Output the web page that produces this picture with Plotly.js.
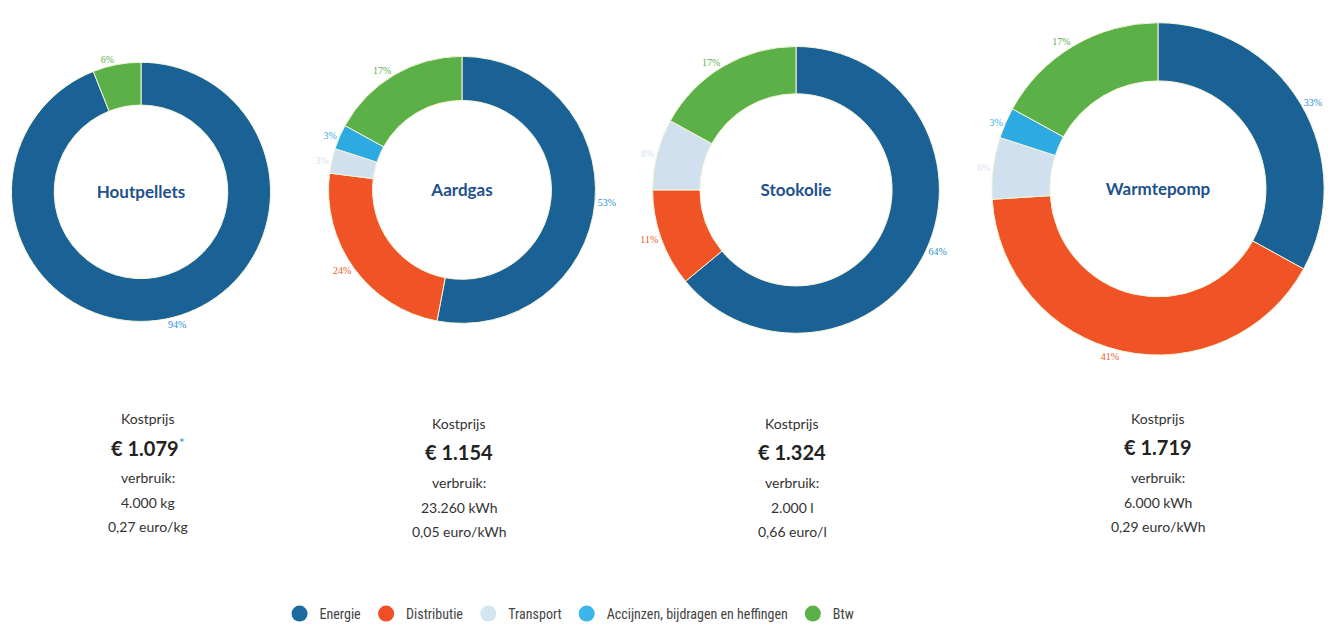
<!DOCTYPE html>
<html>
<head>
<meta charset="utf-8">
<script src="https://cdn.plot.ly/plotly-3.0.1.min.js"></script>
<style>html,body{margin:0;padding:0;background:#fff;}#chart{width:1344px;height:630px;}</style>
</head>
<body>
<div id="chart"></div>
<script>
// ---- data ----
var fuels = ['Houtpellets', 'Aardgas', 'Stookolie', 'Warmtepomp'];
var categories = ['Energie', 'Distributie', 'Transport', 'Accijnzen, bijdragen en heffingen', 'Btw'];
var energie     = [94, 53, 64, 33];
var distributie = [0, 24, 11, 41];
var transport   = [0, 3, 8, 6];
var accijnzen   = [0, 3, 0, 3];
var btw         = [6, 17, 17, 17];
var kostprijs   = ['€ 1.079', '€ 1.154', '€ 1.324', '€ 1.719'];
var asterisk    = [true, false, false, false];
var verbruik    = ['4.000 kg', '23.260 kWh', '2.000 l', '6.000 kWh'];
var eenheidsprijs = ['0,27 euro/kg', '0,05 euro/kWh', '0,66 euro/l', '0,29 euro/kWh'];

// ---- styling ----
var W = 1344, H = 630;
var sliceColors = ['#1a6296', '#f05326', '#d0e0ef', '#2eaae2', '#5cb048'];
var labelColors = ['#2e8fd0', '#f05a28', '#d5e2ee', '#35b0e6', '#5cb048'];
var legendColors = ['#1d6aa0', '#f04e24', '#d3e5f1', '#3cb5ea', '#5cb048'];
var geom = [ // cx, cy, r, hole
  [141, 194, 131, 0.67],
  [462, 192, 135, 0.67],
  [796, 192, 145, 0.67],
  [1158, 191, 168, 0.65]
];
var textCols = [148, 459, 792, 1158];
var textTop = [423, 428, 428, 423];

var traces = [];
fuels.forEach(function (f, i) {
  var g = geom[i];
  var vals = [energie[i], distributie[i], transport[i], accijnzen[i], btw[i]];
  var keep = [];
  vals.forEach(function (v, k) { if (v > 0) keep.push(k); });
  traces.push({
    type: 'pie',
    labels: keep.map(function (k) { return categories[k]; }),
    values: keep.map(function (k) { return vals[k]; }),
    text: keep.map(function (k) { return vals[k] + '%'; }),
    textinfo: 'text',
    sort: false,
    direction: 'clockwise',
    rotation: 0,
    hole: g[3],
    showlegend: false,
    domain: {
      x: [(g[0] - g[2]) / W, (g[0] + g[2]) / W],
      y: [1 - (g[1] + g[2]) / H, 1 - (g[1] - g[2]) / H]
    },
    marker: {
      colors: keep.map(function (k) { return sliceColors[k]; }),
      line: {color: '#f4f6d8', width: 1}
    },
    textposition: 'outside',
    textfont: {family: 'Liberation Serif, DejaVu Serif, serif', size: 10,
               color: keep.map(function (k) { return labelColors[k]; })},
    hoverinfo: 'label+percent',
    title: {
      text: '<b>' + f + '</b>',
      position: 'middle center',
      font: {family: 'Lato, Open Sans, sans-serif', size: 17, color: '#22508c'}
    }
  });
});

// legend via invisible scatter entries with circle markers
categories.forEach(function (c, k) {
  traces.push({
    type: 'scatter', mode: 'markers', x: [null], y: [null], name: c,
    marker: {symbol: 'circle', size: 17, color: legendColors[k]},
    showlegend: true, hoverinfo: 'skip'
  });
});

var annotations = [];
fuels.forEach(function (f, i) {
  var cx = textCols[i] / W;
  var t = textTop[i];
  var lines = [
    {text: 'Kostprijs', dy: 0, size: 14, color: '#333'},
    {text: '<b>' + kostprijs[i] + '</b>' + (asterisk[i] ? '<span style="color:#3aa0dc"><sup>*</sup></span>' : ''), dy: 29, size: 20, color: '#222'},
    {text: 'verbruik:', dy: 60, size: 14, color: '#333'},
    {text: verbruik[i], dy: 85, size: 14, color: '#333'},
    {text: eenheidsprijs[i], dy: 109, size: 14, color: '#333'}
  ];
  lines.forEach(function (ln) {
    annotations.push({
      xref: 'paper', yref: 'paper', x: cx, y: 1 - (t + ln.dy) / H,
      xanchor: 'center', yanchor: 'middle', showarrow: false,
      text: ln.text,
      font: {family: 'Lato, Open Sans, sans-serif', size: ln.size, color: ln.color}
    });
  });
});

var layout = {
  width: W, height: H,
  margin: {l: 0, r: 0, t: 0, b: 0},
  paper_bgcolor: '#ffffff',
  plot_bgcolor: '#ffffff',
  xaxis: {visible: false, range: [0, 1]},
  yaxis: {visible: false, range: [0, 1]},
  showlegend: true,
  legend: {
    orientation: 'h',
    x: 0.208, xanchor: 'left',
    y: 1 - 621 / H, yanchor: 'middle',
    font: {family: 'Liberation Sans Narrow, Roboto Condensed, Roboto, sans-serif', size: 14, color: '#444'},
    bgcolor: 'rgba(0,0,0,0)'
  },
  annotations: annotations
};

Plotly.newPlot('chart', traces, layout, {displayModeBar: false, staticPlot: true});
</script>
</body>
</html>
